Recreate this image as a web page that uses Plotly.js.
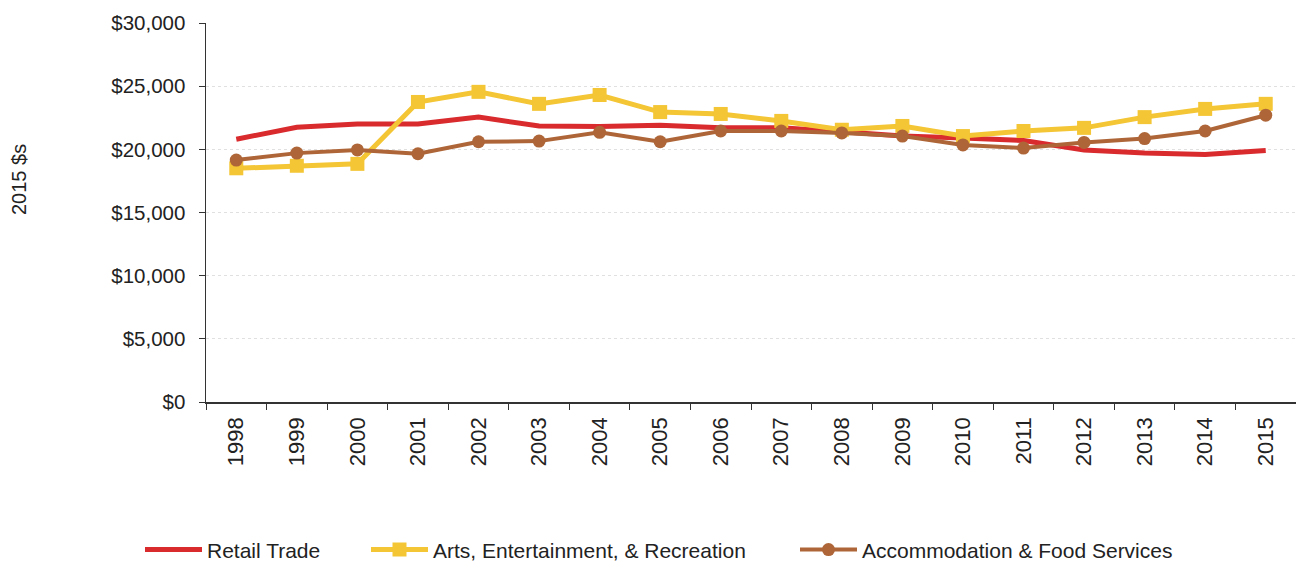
<!DOCTYPE html>
<html>
<head>
<meta charset="utf-8">
<script src="https://cdn.plot.ly/plotly-3.0.1.min.js"></script>
<style>html,body{margin:0;padding:0;background:#fff;}#chart{width:1296px;height:564px;}</style>
</head>
<body>
<div id="chart"></div>
<script>
const years = ['1998','1999','2000','2001','2002','2003','2004','2005','2006','2007','2008','2009','2010','2011','2012','2013','2014','2015'];
const retailTrade = [20800,21750,22000,22000,22550,21850,21800,21900,21700,21700,21400,21050,20900,20700,19950,19700,19600,19900];
const artsEntertainment = [18500,18700,18850,23750,24550,23600,24300,22950,22800,22250,21550,21850,21050,21450,21700,22550,23200,23600];
const accommodationFood = [19150,19700,19950,19650,20600,20650,21350,20600,21450,21450,21300,21050,20350,20100,20550,20850,21450,22700];
const yTickVals = [0,5000,10000,15000,20000,25000,30000];
const yTickText = ['$0','$5,000','$10,000','$15,000','$20,000','$25,000','$30,000'];
const yTitle = '2015 $s';

const traces = [
  {x: years, y: retailTrade, name: 'Retail Trade', type: 'scatter', mode: 'lines', legend: 'legend',
   line: {color: '#D92A2E', width: 5}},
  {x: years, y: artsEntertainment, name: 'Arts, Entertainment, & Recreation', type: 'scatter', mode: 'lines+markers', legend: 'legend2',
   line: {color: '#F4C534', width: 5}, marker: {symbol: 'square', size: 14, color: '#F4C534'}},
  {x: years, y: accommodationFood, name: 'Accommodation & Food Services', type: 'scatter', mode: 'lines+markers', legend: 'legend3',
   line: {color: '#AE6638', width: 4}, marker: {symbol: 'circle', size: 13, color: '#AE6638'}}
];

function leg(px) {
  return {orientation: 'h', xref: 'container', yref: 'container', x: px / 1296, xanchor: 'left', y: 0.025, yanchor: 'middle',
    font: {size: 21, color: '#222'}, itemwidth: 57, bgcolor: 'rgba(0,0,0,0)'};
}

const layout = {
  width: 1296, height: 564,
  margin: {l: 206, r: 0, t: 23, b: 162},
  paper_bgcolor: '#fff', plot_bgcolor: '#fff',
  font: {family: 'Liberation Sans, Arial, sans-serif', size: 20, color: '#222'},
  showlegend: true,
  legend: leg(140),
  legend2: leg(366),
  legend3: leg(795),
  xaxis: {type: 'category', tickangle: -90, showline: true, linecolor: '#333', linewidth: 1.5,
    ticks: 'outside', ticklen: 6, tickcolor: '#333', tickson: 'boundaries', showgrid: false,
    tickfont: {size: 22}, range: [-0.5, 17.5], zeroline: false, ticklabelstandoff: 5},
  yaxis: {range: [0, 30000], tickvals: yTickVals, ticktext: yTickText, showline: true, linecolor: '#333', linewidth: 1.5,
    ticks: 'outside', ticklen: 6, tickcolor: '#333', showgrid: true, gridcolor: '#e0e0e0', griddash: 'dot', gridwidth: 1,
    zeroline: false, tickfont: {size: 20.5}, ticklabelstandoff: 9},
  annotations: [{text: yTitle, xref: 'paper', yref: 'paper', x: (19 - 206) / 1090, y: (402 - 180) / 379,
    xanchor: 'center', yanchor: 'middle', textangle: -90, showarrow: false, font: {size: 20, color: '#222'}}]
};

Plotly.newPlot('chart', traces, layout, {displayModeBar: false, staticPlot: true});
</script>
</body>
</html>
